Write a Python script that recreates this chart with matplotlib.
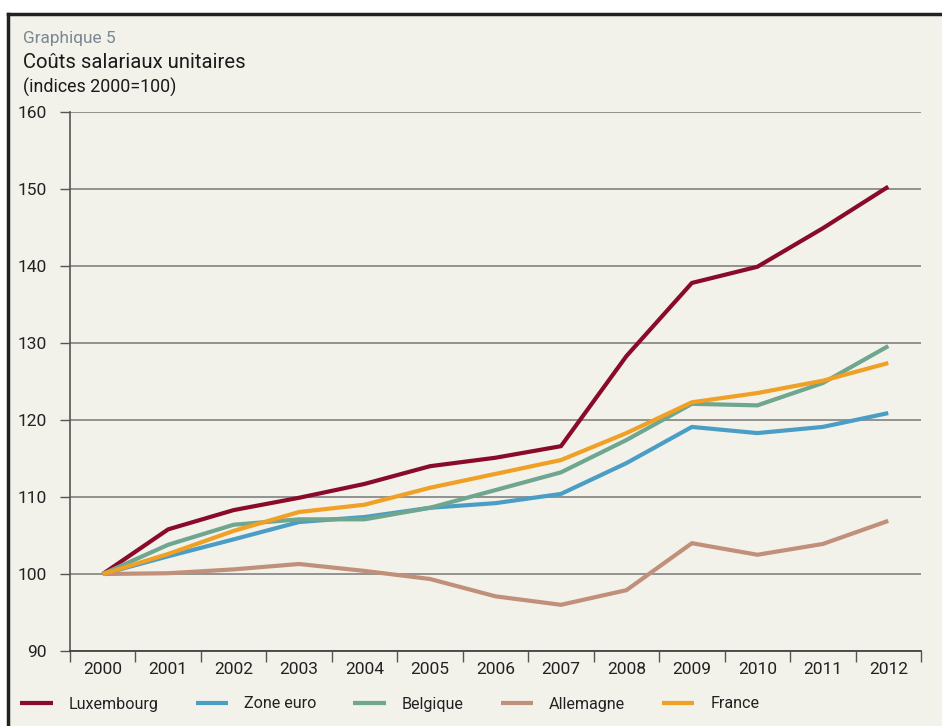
import matplotlib
matplotlib.use("Agg")
import matplotlib.pyplot as plt
from matplotlib.patches import Rectangle
from matplotlib.lines import Line2D

plt.rcParams['font.family'] = ['Roboto', 'DejaVu Sans']

years = [str(y) for y in range(2000, 2013)]
luxembourg = [100, 105.8, 108.3, 109.9, 111.7, 114.0, 115.1, 116.6, 128.3, 137.8, 139.9, 144.9, 150.3]
zone_euro = [100, 102.3, 104.5, 106.75, 107.4, 108.6, 109.2, 110.4, 114.4, 119.1, 118.3, 119.1, 120.9]
belgique = [100, 103.8, 106.4, 107.1, 107.1, 108.6, 110.9, 113.2, 117.4, 122.1, 121.9, 124.8, 129.6]
allemagne = [100, 100.1, 100.6, 101.3, 100.4, 99.35, 97.1, 96.0, 97.9, 104.0, 102.5, 103.9, 106.9]
france = [100, 102.6, 105.6, 108.05, 109.0, 111.2, 113.0, 114.8, 118.3, 122.3, 123.5, 125.1, 127.4]

series = [
    ("Luxembourg", luxembourg, "#8a0a2a"),
    ("Zone euro", zone_euro, "#4a9ec6"),
    ("Belgique", belgique, "#6fa68f"),
    ("Allemagne", allemagne, "#c1907a"),
    ("France", france, "#f0a024"),
]
y_ticks = [90, 100, 110, 120, 130, 140, 150, 160]

W, H = 942, 726
fig = plt.figure(figsize=(W / 100, H / 100), dpi=100, facecolor="white")
bg = "#f2f1ea"
fig.patches.append(Rectangle((8 / W, 0), 1 - 8 / W, 1 - 14 / H, transform=fig.transFigure,
                             facecolor=bg, edgecolor="none", zorder=-10))
fig.lines.append(Line2D([8 / W, 1], [1 - 14 / H, 1 - 14 / H], transform=fig.transFigure,
                        color="#222222", lw=2.5, zorder=-5))
fig.lines.append(Line2D([8 / W, 8 / W], [0, 1 - 14 / H], transform=fig.transFigure,
                        color="#222222", lw=2.5, zorder=-5))

ax = fig.add_axes([70 / W, 1 - 651 / H, (921 - 70) / W, (651 - 112) / H])
ax.set_facecolor(bg)

x = list(range(len(years)))
for name, vals, col in series:
    ax.plot(x, vals, color=col, lw=3.0, label=name, solid_capstyle="butt", zorder=3)

ax.set_xlim(-0.5, len(years) - 0.5)
ax.set_ylim(90, 160)
ax.set_yticks(y_ticks)
ax.set_yticklabels([str(v) for v in y_ticks])
ax.set_xticks([i - 0.5 for i in range(len(years) + 1)])
ax.set_xticklabels([])
ax.set_xticks(x, minor=True)
ax.set_xticklabels(years, minor=True)
ax.tick_params(axis="x", which="major", length=8, width=1, color="#555555", direction="out")
ax.tick_params(axis="x", which="minor", length=0, pad=8, labelsize=12.5, labelcolor="#222222")
ax.tick_params(axis="y", length=7, width=1, color="#555555", pad=10, labelsize=12.5, labelcolor="#222222")

ax.grid(axis="y", color="#8a8a8a", lw=1.3, zorder=1)
for s in ["top", "right"]:
    ax.spines[s].set_visible(False)
ax.spines["left"].set_color("#555555")
ax.spines["bottom"].set_color("#444444")
ax.spines["left"].set_linewidth(1.2)
ax.spines["bottom"].set_linewidth(1.3)

fig.text(23 / W, 1 - 39 / H, "Graphique 5", fontsize=12.4, color="#7b8792", va="center")
fig.text(23 / W, 1 - 62 / H, "Coûts salariaux unitaires", fontsize=14.6, color="#1a1a1a", va="center")
fig.text(23 / W, 1 - 87 / H, "(indices 2000=100)", fontsize=12.9, color="#1a1a1a", va="center")

handles, labels = ax.get_legend_handles_labels()
leg = fig.legend(handles, labels, loc="center left", bbox_to_anchor=(14 / W, 1 - 704 / H),
                 ncol=5, frameon=False, fontsize=11.6, handlelength=2.0, handletextpad=1.0,
                 columnspacing=2.3, borderaxespad=0)
for t in leg.get_texts():
    t.set_color("#222222")

fig.savefig("out.png", dpi=100, facecolor=fig.get_facecolor())
